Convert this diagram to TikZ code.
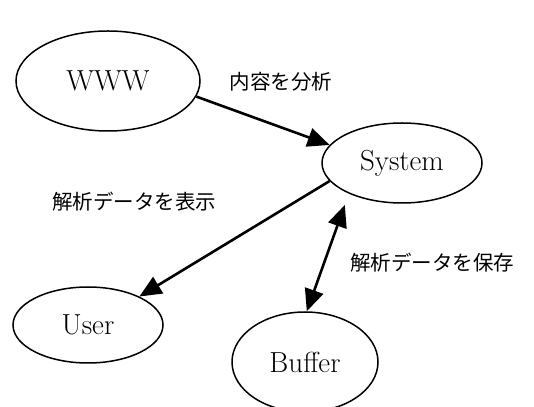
\documentclass[tikz,border=0pt]{standalone}
\usepackage{fontspec}
\newfontfamily\jpfont{Noto Sans CJK JP}
\usetikzlibrary{shapes.geometric, arrows.meta}

\tikzset{
    blob/.style={ellipse, draw, line width=1.5pt, inner sep=0pt,
        font=\fontsize{29}{34}\selectfont},
    flow/.style={line width=2.6pt, -{Triangle[length=22pt, width=19pt]}},
    note/.style={font=\jpfont\fontsize{20.5}{24}\selectfont}
}

\begin{document}
\begin{tikzpicture}[x=1pt, y=1pt]

    \useasboundingbox (0,0) rectangle (534,406);

    % Ellipses
    \node[blob, minimum width=184pt, minimum height=100pt] (www) at (108,325) {WWW};
    \node[blob, minimum width=160pt, minimum height=80pt] (sys) at (402,243) {System};
    \node[blob, minimum width=150pt, minimum height=76pt] (user) at (88,81) {User};
    \node[blob, minimum width=146pt, minimum height=100pt] (buf) at (305,44) {Buffer};

    % Labels
    \node[note] (analyse) at (281,324) {内容を分析};
    \node[note] (show) at (134,204) {解析データを表示};
    \node[note] (store) at (432,143) {解析データを保存};

    % Arrows
    \draw[flow] (www.-10) -- (sys.166);
    \draw[flow] (sys.194) -- (user.29);
    \draw[flow, {Triangle[length=22pt, width=19pt]}-{Triangle[length=22pt, width=19pt]},
        shorten <=12pt] (sys.210) -- (buf.88);

\end{tikzpicture}
\end{document}
